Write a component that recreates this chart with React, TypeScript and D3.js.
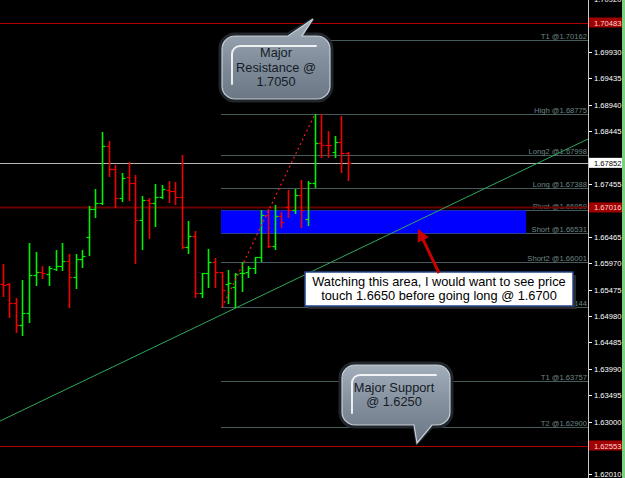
import React from "react";
import * as d3 from "d3";

// ---- data ----
const opens = [1.65581,1.65581,1.65219,1.64806,1.65042,1.65744,1.65805,1.65768,1.65862,1.65918,1.66006,1.65706,1.66049,1.66456,1.66981,1.67094,1.68168,1.67731,1.67187,1.67592,1.67468,1.66780,1.67155,1.67094,1.67205,1.67343,1.67330,1.67205,1.66269,1.66481,1.65406,1.65781,1.65993,1.65800,1.65575,1.65530,1.65781,1.65810,1.65875,1.66092,1.66874,1.66293,1.66855,1.67019,1.66968,1.67249,1.66805,1.67468,1.68230,1.68187,1.68061,1.68248,1.68031];
const highs = [1.65955,1.65594,1.65312,1.65656,1.66349,1.66180,1.65924,1.65924,1.66224,1.66349,1.66143,1.66143,1.66224,1.67043,1.67362,1.68430,1.68256,1.67812,1.67656,1.67868,1.67624,1.67230,1.67187,1.67455,1.67437,1.67512,1.67499,1.67999,1.66767,1.66569,1.65787,1.66237,1.66074,1.65811,1.65843,1.65781,1.65999,1.65924,1.66092,1.66968,1.66992,1.67056,1.66925,1.67343,1.67356,1.67530,1.67517,1.68775,1.68762,1.68449,1.68355,1.68730,1.68061];
const lows = [1.65361,1.64967,1.64675,1.64624,1.64874,1.65562,1.65699,1.65562,1.65849,1.65843,1.65155,1.65511,1.65899,1.66124,1.66831,1.67080,1.67605,1.67030,1.67142,1.67155,1.65980,1.66242,1.66449,1.66674,1.67200,1.67124,1.67080,1.66261,1.66167,1.65331,1.65343,1.65530,1.65530,1.65170,1.65230,1.65144,1.65455,1.65717,1.65781,1.66017,1.66280,1.66231,1.66655,1.66831,1.66906,1.66655,1.66687,1.67405,1.67967,1.67956,1.67956,1.67686,1.67530];
const closes = [1.65567,1.65219,1.64806,1.65042,1.65744,1.65805,1.65792,1.65880,1.65918,1.66006,1.65706,1.66049,1.66106,1.66981,1.67094,1.68168,1.67731,1.67187,1.67562,1.67468,1.66780,1.67155,1.67094,1.67205,1.67356,1.67330,1.67205,1.66269,1.66481,1.65406,1.65781,1.65993,1.65805,1.65468,1.65605,1.65768,1.65792,1.65875,1.66092,1.66874,1.66293,1.66855,1.66749,1.66968,1.67249,1.66968,1.67468,1.68230,1.68187,1.68180,1.68248,1.68031,1.67852];

const levelNames = ["T1 @", "High @", "Long2 @", "Long  @", "Pivot @", "Short @", "Short2 @", "Low @", "T1 @", "T2 @"];
const levelPrices = [1.70162, 1.68775, 1.67998, 1.67388, 1.66959, 1.66531, 1.66001, 1.65144, 1.63757, 1.62900];
const redLinePrices = [1.70483, 1.67016, 1.62553];
const currentPrice = 1.67852;
const axisTicks = [1.70920,1.70425,1.69930,1.69435,1.68940,1.68445,1.67950,1.67455,1.66960,1.66465,1.65970,1.65475,1.64980,1.64485,1.63990,1.63495,1.63000,1.62505,1.62010];
const zoneTop = 1.66959, zoneBottom = 1.66531;
const zoneStartBar = 33, zoneEndBar = 78.8;
const levelStartBar = 33;
const fibFrom = { bar: 33, price: 1.65144 };
const fibTo = { bar: 47, price: 1.68775 };
const trendFrom = { bar: -0.45, price: 1.63012 };
const trendTo = { bar: 88.1, price: 1.68299 };

const resistanceText = ["Major", "Resistance @", "1.7050"];
const supportText = ["Major Support", "@ 1.6250"];
const noteText = ["Watching this area, I would want to see price", "touch 1.6650 before going long @ 1.6700"];

const W = 625, H = 478, PR = 588;
const FONT = "'Liberation Sans', Arial, sans-serif";

function calloutPath(x0: number, y0: number, x1: number, y1: number, r: number, t: { side: string; b0: number; b1: number; ax: number; ay: number }) {
  let p = `M${x0 + r},${y0}`;
  if (t.side === "top") p += ` L${t.b0},${y0} L${t.ax},${t.ay} L${t.b1},${y0}`;
  p += ` L${x1 - r},${y0} A${r},${r} 0 0 1 ${x1},${y0 + r} L${x1},${y1 - r} A${r},${r} 0 0 1 ${x1 - r},${y1}`;
  if (t.side === "bottom") p += ` L${t.b1},${y1} L${t.ax},${t.ay} L${t.b0},${y1}`;
  p += ` L${x0 + r},${y1} A${r},${r} 0 0 1 ${x0},${y1 - r} L${x0},${y0 + r} A${r},${r} 0 0 1 ${x0 + r},${y0} Z`;
  return p;
}

function Callout({ x0, y0, x1, y1, tail, lines, ty, lh, cx }: any) {
  const r = 13;
  return (
    <g>
      <path d={calloutPath(x0 - 2, y0 - 2, x1 + 2, y1 + 2, r + 2, tail)} fill="none" stroke="#20262c" strokeWidth={3} />
      <path d={calloutPath(x0, y0, x1, y1, r, tail)} fill="url(#calloutGrad)" stroke="#c9d2da" strokeWidth={1.2} />
      <path
        d={`M${x0 + 10},${y0 + 48} L${x0 + 10},${y0 + 18} A8,8 0 0 1 ${x0 + 18},${y0 + 10} L${x1 - 14},${y0 + 10}`}
        fill="none" stroke="#ffffff" strokeOpacity={0.85} strokeWidth={2} strokeLinecap="round"
      />
      {lines.map((s: string, i: number) => (
        <text key={i} x={cx} y={ty + i * lh} textAnchor="middle" fontFamily={FONT} fontSize={12.8} fill="#151b26">{s}</text>
      ))}
    </g>
  );
}

export default function App() {
  const y = d3.scaleLinear().domain([1.62553, 1.70483]).range([445.5, 22.5]);
  const x = d3.scaleLinear().domain([0, 52]).range([3, 348.3]);
  const sy = (p: number) => Math.round(y(p)) + 0.5;
  const sx = (b: number) => Math.floor(x(b)) + 0.5;
  const lvlX0 = Math.floor(x(levelStartBar)) - 1;
  const trend = d3.line<{ bar: number; price: number }>().x(d => x(d.bar)).y(d => y(d.price));
  const boxed = [...redLinePrices, currentPrice];
  const visibleTicks = axisTicks.filter(t => boxed.every(b => Math.abs(y(t) - y(b)) > 9));

  return (
    <svg width={W} height={H} style={{ position: "fixed", left: 0, top: 0, display: "block", background: "#000" }}>
      <defs>
        <linearGradient id="calloutGrad" x1="0" y1="0" x2="0" y2="1">
          <stop offset="0" stopColor="#a3aebb" />
          <stop offset="0.5" stopColor="#838f9d" />
          <stop offset="1" stopColor="#6b7785" />
        </linearGradient>
        <clipPath id="plot"><rect x={0} y={0} width={PR} height={H} /></clipPath>
        <marker id="arrowHead" viewBox="0 0 10 10" refX="8" refY="5" markerWidth="4.2" markerHeight="4.2" orient="auto">
          <path d="M0,0 L10,5 L0,10 Z" fill="#c80000" />
        </marker>
      </defs>
      <rect x={0} y={0} width={W} height={H} fill="#000" />
      <g clipPath="url(#plot)">
        {levelPrices.map((p, i) => (
          <g key={"lv" + i}>
            <line x1={lvlX0} x2={PR} y1={sy(p)} y2={sy(p)} stroke="#465c5c" strokeWidth={1} />
            <text x={PR - 1} y={sy(p) - 2} textAnchor="end" fontFamily={FONT} fontSize={7.6} fill="#6d8585">
              {levelNames[i] + p.toFixed(5)}
            </text>
          </g>
        ))}
        {redLinePrices.map((p, i) => (
          <line key={"rl" + i} x1={0} x2={PR} y1={sy(p)} y2={sy(p)} stroke={i === 1 ? "#6a0000" : "#b00000"} strokeWidth={i === 1 ? 2 : 1} />
        ))}
        <line x1={0} x2={PR} y1={sy(currentPrice)} y2={sy(currentPrice)} stroke="#b8b8b8" strokeWidth={1} />
        <rect x={Math.floor(x(zoneStartBar)) - 1} y={y(zoneTop)} width={x(zoneEndBar) - x(zoneStartBar) + 1} height={y(zoneBottom) - y(zoneTop)} fill="#0000ff" />
        <path d={trend([trendFrom, trendTo]) || ""} stroke="#2fa85e" strokeWidth={1} fill="none" />
        {opens.map((o, i) => {
          const c = closes[i];
          const col = c >= o ? "#00f000" : "#f00000";
          const xb = sx(i);
          return (
            <g key={"b" + i} stroke={col} strokeWidth={1.6}>
              <line x1={xb} x2={xb} y1={Math.round(y(highs[i]))} y2={Math.round(y(lows[i])) + 1} />
              <line x1={xb - 3} x2={xb} y1={sy(o)} y2={sy(o)} strokeWidth={1.2} />
              <line x1={xb} x2={xb + 3} y1={sy(c)} y2={sy(c)} strokeWidth={1.2} />
            </g>
          );
        })}
        <path d={trend([fibFrom, fibTo]) || ""} stroke="#ff1a1a" strokeWidth={1.2} strokeDasharray="2,3" fill="none" />
      </g>

      <Callout x0={222} y0={36} x1={330} y1={99} cx={276} ty={57} lh={14.5} lines={resistanceText}
        tail={{ side: "top", b0: 288, b1: 302, ax: 313, ay: 19 }} />
      <Callout x0={342} y0={365} x1={450} y1={425} cx={394} ty={392} lh={14} lines={supportText}
        tail={{ side: "bottom", b0: 414, b1: 432, ax: 417, ay: 443 }} />

      <rect x={308} y={275} width={268} height={34} fill="#2a2a2a" />
      <rect x={305} y={272} width={268} height={34} fill="#ffffff" stroke="#25458a" strokeWidth={1.5} />
      {noteText.map((s, i) => (
        <text key={"n" + i} x={439} y={286 + i * 14} textAnchor="middle" fontFamily={FONT} fontSize={12.8} fill="#000">{s}</text>
      ))}
      <line x1={439} y1={273} x2={419} y2={231} stroke="#c80000" strokeWidth={3} markerEnd="url(#arrowHead)" />

      <line x1={PR + 0.5} x2={PR + 0.5} y1={0} y2={H} stroke="#c8c8c8" strokeWidth={1} />
      <rect x={622} y={0} width={3} height={H} fill="#7fd07f" />
      {axisTicks.map((t, i) => (
        <line key={"tk" + i} x1={PR + 1} x2={PR + 4} y1={sy(t)} y2={sy(t)} stroke="#ffffff" />
      ))}
      {visibleTicks.map((t, i) => (
        <text key={"t" + i} x={594} y={y(t) + 3} fontFamily={FONT} fontSize={7.6} fill="#ffffff">{t.toFixed(5)}</text>
      ))}
      {redLinePrices.map((p, i) => (
        <g key={"rb" + i}>
          <rect x={589} y={y(p) - 5} width={33} height={10} fill="#a00000" />
          <text x={594} y={y(p) + 3} fontFamily={FONT} fontSize={7.6} fill="#ffd8d8">{p.toFixed(5)}</text>
        </g>
      ))}
      <rect x={589} y={y(currentPrice) - 5} width={33} height={10} fill="#ffffff" />
      <text x={594} y={y(currentPrice) + 3} fontFamily={FONT} fontSize={7.6} fill="#000">{currentPrice.toFixed(5)}</text>
    </svg>
  );
}
